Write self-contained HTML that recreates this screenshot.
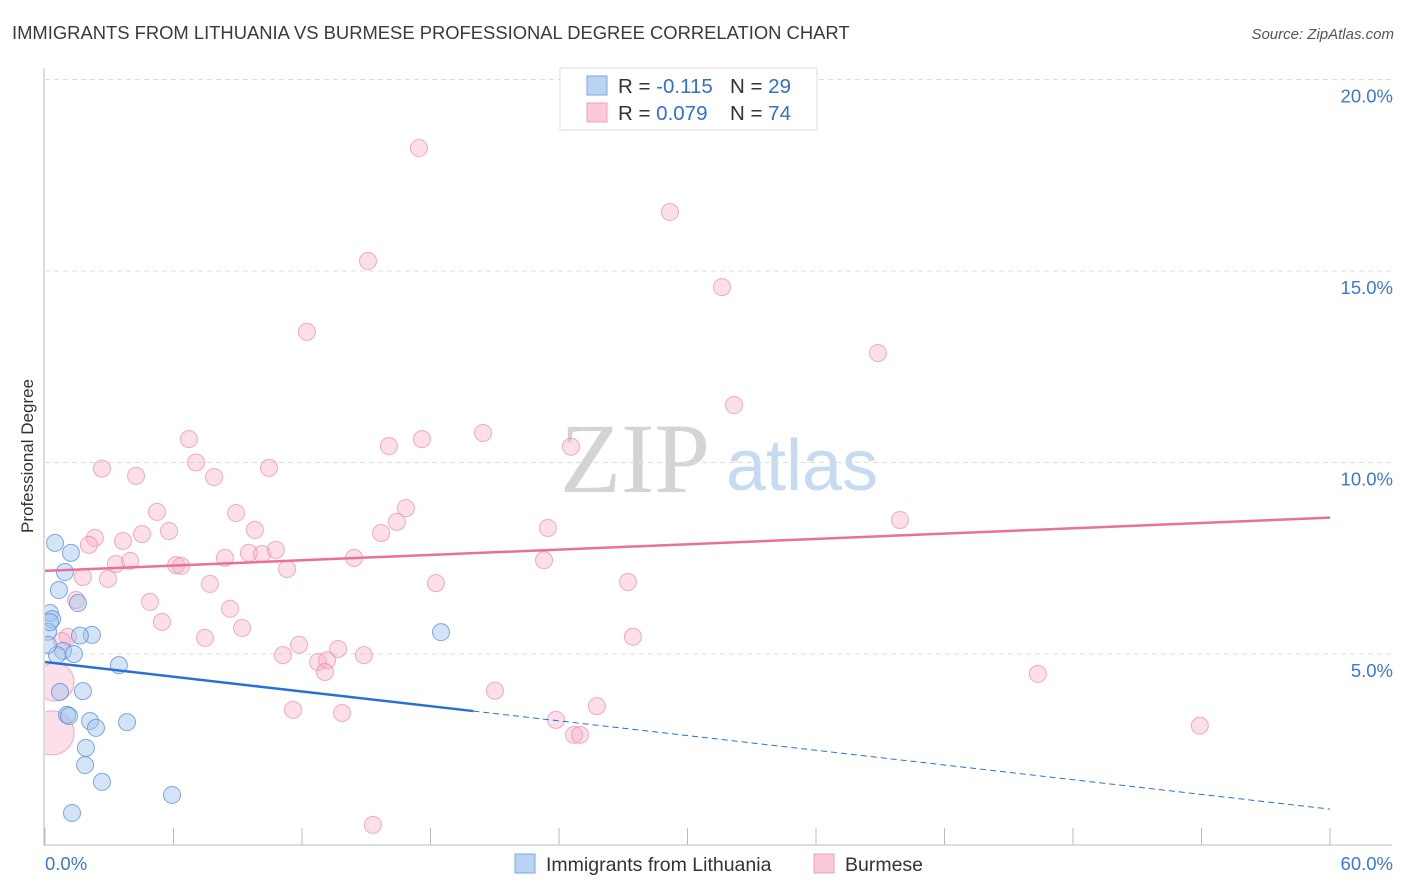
<!DOCTYPE html>
<html><head><meta charset="utf-8"><style>
body{margin:0;background:#fff;font-family:"Liberation Sans",sans-serif;}
svg{display:block}
</style></head><body>
<svg width="1406" height="892" xmlns="http://www.w3.org/2000/svg">
<defs><clipPath id="plotclip"><rect x="45" y="60" width="1360" height="786"/></clipPath></defs>
<text x="12" y="39" font-size="18.4" fill="#3a3a3a">IMMIGRANTS FROM LITHUANIA VS BURMESE PROFESSIONAL DEGREE CORRELATION CHART</text>
<text x="1394" y="39" font-size="15" fill="#555" font-style="italic" text-anchor="end">Source: ZipAtlas.com</text>
<g>
<text x="635" y="492" font-size="100" font-family="Liberation Serif,serif" fill="#d4d4d4" text-anchor="middle">ZIP</text>
<text x="802" y="490" font-size="72" fill="#c6daf2" text-anchor="middle">atlas</text>
</g>
<g id="grid"></g>
<g id="axes"></g>
<g id="marks" clip-path="url(#plotclip)"></g>
<text transform="translate(33,456) rotate(-90)" font-size="17" fill="#333" text-anchor="middle">Professional Degree</text>
<g>
<rect x="560" y="68" width="257" height="62" fill="#fff" stroke="#ddd"/>
<rect x="587" y="76" width="20" height="19" fill="#b9d3f3" stroke="#7aa7e0"/>
<rect x="587" y="103" width="20" height="19" fill="#fcc9d8" stroke="#f0a0b8"/>
<text x="618" y="93" font-size="20.5" fill="#333">R = <tspan fill="#3070d0">-0.115</tspan></text>
<text x="730" y="93" font-size="20.5" fill="#333">N = <tspan fill="#3070d0">29</tspan></text>
<text x="618" y="120" font-size="20.5" fill="#333">R = <tspan fill="#3070d0">0.079</tspan></text>
<text x="730" y="120" font-size="20.5" fill="#333">N = <tspan fill="#3070d0">74</tspan></text>
</g>
<g>
<rect x="515" y="854" width="20" height="19" fill="#b9d3f3" stroke="#7aa7e0"/>
<text x="546" y="871" font-size="19.5" fill="#333">Immigrants from Lithuania</text>
<rect x="814" y="854" width="20" height="19" fill="#fcc9d8" stroke="#f0a0b8"/>
<text x="845" y="871" font-size="19.5" fill="#333">Burmese</text>
</g>
</svg>
<script>
const blueX=[0.47,1.21,0.93,0.65,0.23,0.33,1.54,0.14,2.19,1.63,0.84,1.35,0.56,3.45,18.49,0.70,1.77,1.03,1.12,2.10,3.83,2.38,1.91,1.87,2.66,5.93,1.26,0.14,0.23];
const blueY=[7.90,7.64,7.14,6.67,6.07,5.91,6.33,5.58,5.50,5.48,5.08,5.00,4.97,4.71,5.57,4.01,4.03,3.41,3.38,3.25,3.22,3.07,2.55,2.10,1.66,1.32,0.85,5.24,5.83];
const pinkX=[17.46,29.18,15.08,31.61,12.23,38.89,32.17,6.72,17.60,20.45,16.06,24.56,2.66,7.05,10.46,4.25,7.89,5.23,16.85,8.92,39.92,23.48,16.43,5.79,15.69,9.80,2.33,3.64,2.05,4.53,9.52,10.13,10.78,8.40,14.43,23.30,3.31,6.12,6.35,11.30,3.97,1.77,2.94,7.70,18.25,27.22,4.90,8.64,5.46,9.20,1.45,7.47,27.45,1.07,0.79,11.86,13.68,11.11,14.89,12.75,13.17,13.07,46.36,21.01,11.58,13.87,25.77,23.86,53.92,24.70,24.98,15.31,0.47,0.33];
const pinkY=[18.21,16.54,15.26,14.58,13.41,12.86,11.50,10.61,10.61,10.77,10.43,10.41,9.84,10.00,9.86,9.65,9.62,8.71,8.81,8.68,8.50,8.29,8.45,8.21,8.16,8.24,8.03,7.95,7.85,8.13,7.64,7.61,7.72,7.51,7.51,7.45,7.35,7.32,7.30,7.22,7.43,7.01,6.96,6.83,6.85,6.88,6.36,6.18,5.84,5.68,6.41,5.42,5.45,5.45,5.34,5.24,5.13,4.97,4.97,4.79,4.84,4.53,4.48,4.04,3.54,3.46,3.64,3.28,3.13,2.89,2.89,0.54,4.27,2.94];
const pinkBig=[72,73];
const blueTrend=[4.79,0.95];
const pinkTrend=[7.17,8.56];
const yTicks=[5,10,15,20];
const xTickLabels=["0.0%","60.0%"];
const NS="http://www.w3.org/2000/svg";
const sx=v=>45+v*(1285/60);
const sy=v=>845.5-v*38.3;
function mk(tag,attrs,parent){const e=document.createElementNS(NS,tag);for(const k in attrs)e.setAttribute(k,attrs[k]);parent.appendChild(e);return e;}
const grid=document.getElementById('grid'),axes=document.getElementById('axes'),marks=document.getElementById('marks');
yTicks.forEach(t=>{
 const l=mk('line',{x1:45,x2:1392,y1:sy(t),y2:sy(t),stroke:'#ddd','stroke-dasharray':'5,4'},grid);
 
 
 const tx=mk('text',{x:1393,y:sy(t)+23,'font-size':18.5,fill:'#3a78d4','text-anchor':'end'},axes);
 tx.textContent=t.toFixed(1)+'%';
 
 
});
mk('line',{x1:44,x2:44,y1:68,y2:845,stroke:'#bbb'},axes);
mk('line',{x1:44,x2:1392,y1:845,y2:845,stroke:'#bbb'},axes);
for(let i=0;i<=10;i++){const t=mk('line',{x1:sx(i*6),x2:sx(i*6),y1:828,y2:845,stroke:'#bbb'},axes);
 
 }
const xl0=mk('text',{x:45,y:870,'font-size':18.5,fill:'#3a78d4'},axes);xl0.textContent=xTickLabels[0];


const xl1=mk('text',{x:1393,y:870,'font-size':18.5,fill:'#3a78d4','text-anchor':'end'},axes);xl1.textContent=xTickLabels[1];


pinkX.forEach((x,i)=>{const big=pinkBig.indexOf(i)>=0;
 const c=mk('circle',{cx:sx(x),cy:sy(pinkY[i]),r:big?(i===73?22:19):8.5,fill:'rgba(246,170,195,0.38)',stroke:'rgba(236,140,170,0.7)','stroke-width':1},marks);
 
 });
blueX.forEach((x,i)=>{
 const c=mk('circle',{cx:sx(x),cy:sy(blueY[i]),r:8.5,fill:'rgba(160,196,238,0.45)',stroke:'rgba(90,140,215,0.75)','stroke-width':1},marks);
 
 });
const pl=mk('line',{x1:sx(0),y1:sy(pinkTrend[0]),x2:sx(60),y2:sy(pinkTrend[1]),stroke:'#e8709a','stroke-width':2.5},marks);


const bAt=x=>blueTrend[0]+(blueTrend[1]-blueTrend[0])*x/60;
const bl=mk('line',{x1:sx(0),y1:sy(bAt(0)),x2:sx(20),y2:sy(bAt(20)),stroke:'#2a6fd6','stroke-width':2.5},marks);


const bd=mk('line',{x1:sx(20),y1:sy(bAt(20)),x2:sx(60),y2:sy(bAt(60)),stroke:'#2a6fd6','stroke-width':1,'stroke-dasharray':'6,4'},marks);


</script>
</body></html>
